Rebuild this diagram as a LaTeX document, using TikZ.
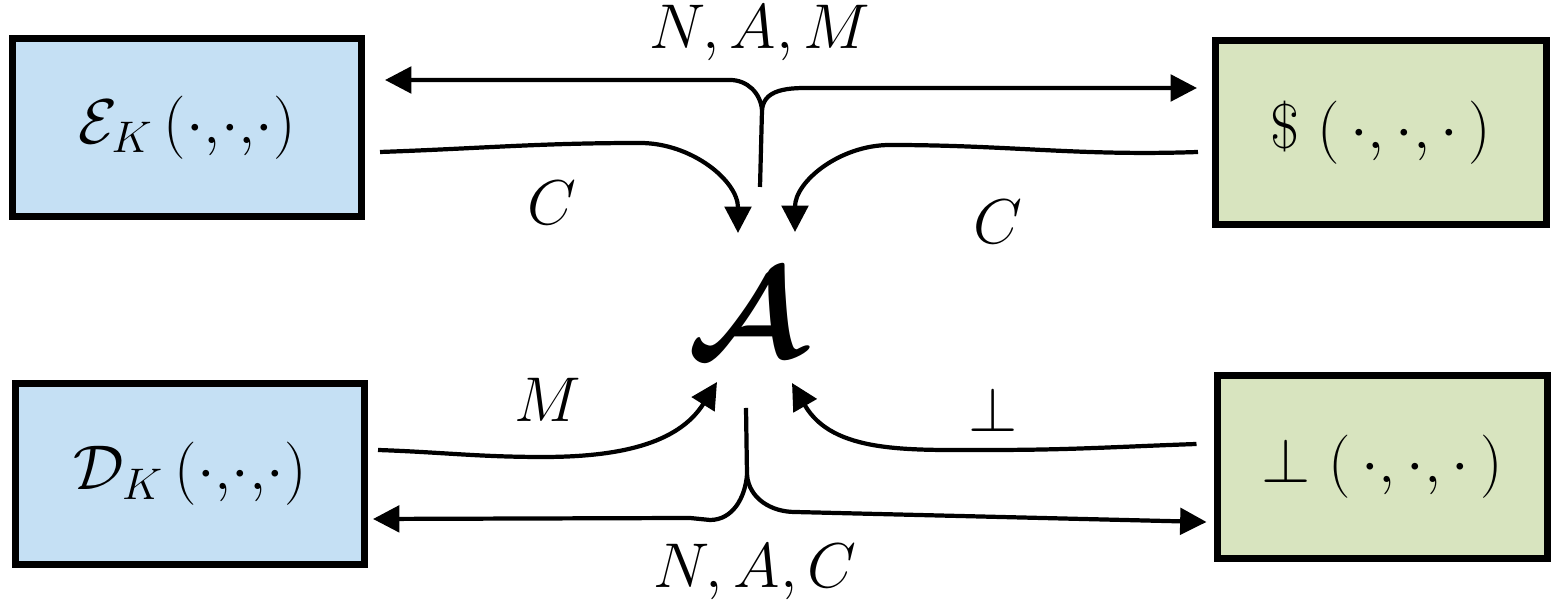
\RequirePackage{fix-cm}
\documentclass[tikz,border=0pt]{standalone}
\usepackage{amsmath,bm}
\usetikzlibrary{arrows.meta, positioning, calc}
\definecolor{oracleblue}{HTML}{C5E0F4}
\definecolor{idealgreen}{HTML}{D8E4BF}
\newcommand{\argdots}{{\cdot}{,}{\cdot}{,}{\cdot}}
\newcommand{\argdotsw}{\,{\cdot}{,}\,{\cdot}{,}\,{\cdot}\,}

\begin{document}
\begin{tikzpicture}[
    box/.style={draw, line width=2pt, fill=#1, minimum width=3.45cm, minimum height=1.8cm, font=\fontsize{18}{22}\selectfont},
    msg/.style={line width=1.2pt, -{Triangle[length=7.5pt, width=7.5pt]}},
    lbl/.style={font=\fontsize{18}{22}\selectfont, inner sep=1pt},
]
\useasboundingbox (0,0) rectangle (15.53,6.07);

% real and ideal oracles
\node[box=oracleblue, minimum width=3.49cm, minimum height=1.78cm] (enc) at (1.87,4.795) {$\mathcal{E}_K\,(\argdots)$};
\node[box=oracleblue, minimum width=3.49cm, minimum height=1.81cm] (dec) at (1.90,1.33) {$\mathcal{D}_K\,(\argdots)$};
\node[box=idealgreen, minimum width=3.31cm, minimum height=1.84cm] (rnd) at (13.81,4.745) {$\$\;(\argdotsw)$};
\node[box=idealgreen, minimum width=3.30cm, minimum height=1.83cm] (bot) at (13.82,1.40) {$\perp(\argdotsw)$};

% adversary
\node[font=\fontsize{36}{40}\selectfont] (adv) at (7.46,2.93) {$\boldsymbol{\mathcal{A}}$};

% encryption queries
\coordinate (stemNAM) at (7.60,4.20);
\coordinate (forkNAM) at (7.62,4.97);
\draw[msg] (stemNAM) -- (forkNAM) to[out=95,in=0] (7.30,5.27) -- ($(enc.east)+(0.2,0.475)$);
\draw[msg] (forkNAM) to[out=85,in=180] (8.20,5.19) -- ($(rnd.west)+(-0.15,0.445)$);
\node[lbl] (nam) at (7.60,5.74) {$N, A, M$};

% ciphertext answers
\coordinate (inEnc) at (7.38,3.74);
\coordinate (inRnd) at (7.95,3.75);
\draw[msg] ($(enc.east)+(0.15,-0.245)$) to[out=2,in=180] (6.40,4.64) to[out=0,in=90] (inEnc);
\draw[msg] ($(rnd.west)+(-0.14,-0.195)$) to[out=182,in=0] (8.90,4.62) to[out=180,in=90] (inRnd);
\node[lbl] (cEnc) at (5.52,4.04) {$C$};
\node[lbl] (cRnd) at (9.98,3.85) {$C$};

% decryption answers
\coordinate (inDec) at (7.17,2.25);
\coordinate (inBot) at (7.92,2.24);
\draw[msg] ($(dec.east)+(0.10,0.24)$) to[out=-2,in=180] (5.43,1.50) to[out=0,in=238] (inDec);
\draw[msg] ($(bot.west)+(-0.17,0.23)$) to[out=182,in=0] (9.90,1.57) to[out=180,in=-60] (inBot);
\node[lbl] (mDec) at (5.48,2.07) {$M$};
\node[lbl] (bBot) at (9.93,1.97) {$\perp$};

% decryption queries
\coordinate (stemNAC) at (7.46,1.99);
\coordinate (forkNAC) at (7.47,1.32);
\draw[msg] (stemNAC) -- (forkNAC) to[out=-95,in=0] (7.10,0.87) -- (6.90,0.89) -- ($(dec.east)+(0.05,-0.45)$);
\draw[msg] (forkNAC) to[out=-85,in=180] (7.95,0.95) -- ($(bot.west)+(-0.07,-0.55)$);
\node[lbl] (nac) at (7.55,0.35) {$N, A, C$};

\end{tikzpicture}
\end{document}
